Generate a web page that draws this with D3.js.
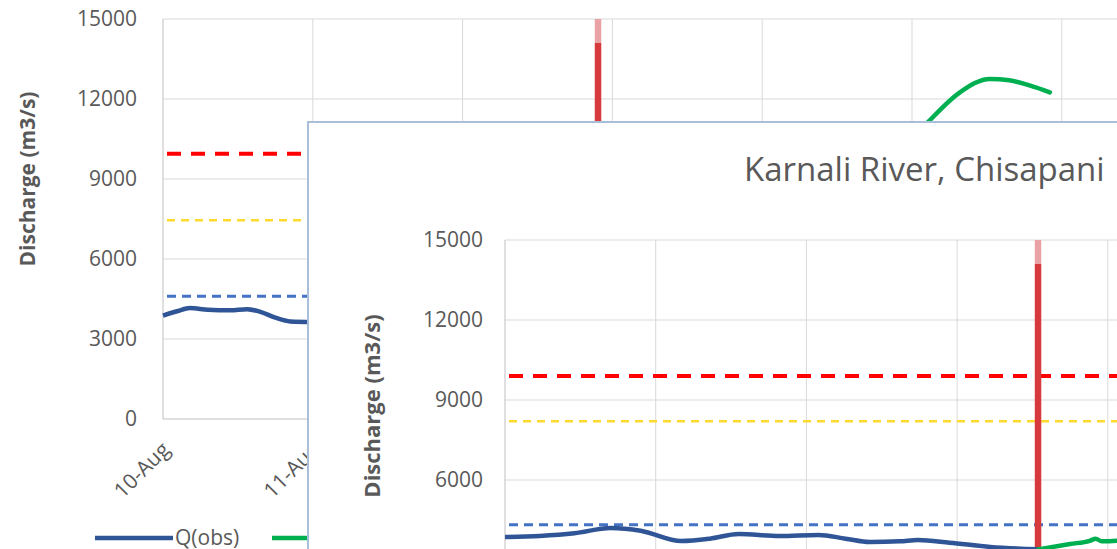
<!DOCTYPE html>
<html>
<head>
<meta charset="utf-8">
<script src="https://cdn.jsdelivr.net/npm/d3@7"></script>
<style>
  body { margin: 0; background: #fff; }
  text { font-family: "Open Sans", sans-serif; fill: #595959; }
</style>
</head>
<body>
<div id="chart"></div>
<script>
// Data (days since 10-Aug, discharge m3/s)
const yTicks = [0, 3000, 6000, 9000, 12000, 15000];
const dayLabels = ["10-Aug", "11-Aug", "12-Aug", "13-Aug", "14-Aug", "15-Aug", "16-Aug"];

// back chart
const backObsDays = [0, 0.1, 0.18, 0.3, 0.45, 0.56, 0.65, 0.75, 0.85, 1.0];
const backObsQ    = [3880, 4050, 4160, 4100, 4080, 4120, 4020, 3800, 3660, 3640];
const backFcDays  = [5.05, 5.11, 5.32, 5.52, 5.65, 5.79, 5.92];
const backFcQ     = [10800, 11150, 12250, 12750, 12700, 12500, 12250];
const backLevels  = { danger: 9950, warning: 7450, alert: 4600 };
const backEventDay = 2.904;

// front chart
const frontObsDays = [0, 0.23, 0.46, 0.70, 0.90, 1.17, 1.36, 1.55, 1.82, 2.08, 2.26, 2.42, 2.62, 2.74, 2.95, 3.22, 3.54];
const frontObsQ    = [3860, 3900, 4000, 4200, 4100, 3710, 3800, 3975, 3900, 3940, 3800, 3675, 3700, 3750, 3650, 3490, 3400];
const frontFcDays  = [3.54, 3.75, 3.88, 3.92, 3.96, 4.06, 4.2];
const frontFcQ     = [3400, 3600, 3720, 3800, 3700, 3720, 3800];
const frontLevels  = { danger: 9900, warning: 8200, alert: 4320 };
const frontEventDay = 3.537;

const W = 1117, H = 549;
const svg = d3.select("#chart").append("svg")
    .attr("width", W)
    .attr("height", H);

const colors = {
    obs: "#2f5597", fc: "#00b050", danger: "#ff0000",
    warning: "#ffd92e", alert: "#4472c4", grid: "#d9d9d9"
};

function drawChart(g, x, y, days, xRight, obsDays, obsQ, fcDays, fcQ, levels, eventDay, pad) {
    const x0 = x.range()[0];

    // gridlines
    g.selectAll(".hgrid").data(yTicks).enter().append("line")
        .attr("x1", x0).attr("x2", xRight)
        .attr("y1", d => y(d)).attr("y2", d => y(d))
        .attr("stroke", d => d === 0 ? "#bfbfbf" : colors.grid);
    g.selectAll(".vgrid").data(days).enter().append("line")
        .attr("x1", d => x(d)).attr("x2", d => x(d))
        .attr("y1", y(15000)).attr("y2", y(0))
        .attr("stroke", (d, i) => i === 0 ? "#bfbfbf" : colors.grid);

    // y axis labels
    g.append("g")
        .attr("transform", `translate(${x0},0)`)
        .call(d3.axisLeft(y).tickValues(yTicks).tickFormat(d3.format("d")).tickSize(0).tickPadding(pad))
        .call(a => a.select(".domain").remove())
        .selectAll("text")
        .style("font-size", "21px")
        .style("font-family", "Open Sans, sans-serif")
        .attr("fill", "#595959");

    // threshold lines
    const lv = [
        { v: levels.danger, c: colors.danger, w: 4, dash: "14,10" },
        { v: levels.warning, c: colors.warning, w: 2.5, dash: "8,6" },
        { v: levels.alert, c: colors.alert, w: 3, dash: "9,6" }
    ];
    g.selectAll(".lvl").data(lv).enter().append("line")
        .attr("x1", x0 + 4).attr("x2", xRight)
        .attr("y1", d => y(d.v)).attr("y2", d => y(d.v))
        .attr("stroke", d => d.c)
        .attr("stroke-width", d => d.w)
        .attr("stroke-dasharray", d => d.dash);

    // event marker
    g.append("line")
        .attr("x1", x(eventDay)).attr("x2", x(eventDay))
        .attr("y1", y(14100)).attr("y2", y(0))
        .attr("stroke", "#d63a3c").attr("stroke-width", 6.5);
    g.append("line")
        .attr("x1", x(eventDay)).attr("x2", x(eventDay))
        .attr("y1", y(15000)).attr("y2", y(14100))
        .attr("stroke", "#e9a3a5").attr("stroke-width", 6.5);

    const line = d3.line()
        .x(d => x(d[0])).y(d => y(d[1]))
        .curve(d3.curveMonotoneX);

    g.append("path")
        .datum(d3.zip(obsDays, obsQ))
        .attr("d", line)
        .attr("fill", "none")
        .attr("stroke", colors.obs)
        .attr("stroke-width", 4.5)
        .attr("stroke-linejoin", "round");

    g.append("path")
        .datum(d3.zip(fcDays, fcQ))
        .attr("d", line)
        .attr("fill", "none")
        .attr("stroke", colors.fc)
        .attr("stroke-width", 4.5)
        .attr("stroke-linecap", "round");
}

// ---- back chart
const backX = d3.scaleLinear().domain([0, 6]).range([163, 163 + 6 * 149.8]);
const backY = d3.scaleLinear().domain([0, 15000]).range([419, 19]);
const back = svg.append("g");
drawChart(back, backX, backY, d3.range(0, 7), W, backObsDays, backObsQ, backFcDays, backFcQ, backLevels, backEventDay, 26);

back.append("text")
    .attr("transform", `translate(35,179) rotate(-90)`)
    .attr("text-anchor", "middle")
    .style("font-size", "21px")
    .style("font-weight", "bold")
    .text("Discharge (m3/s)");

back.selectAll(".xl").data(dayLabels.slice(0, 2)).enter().append("text")
    .attr("transform", (d, i) => `translate(${backX(i) + 8},${backY(0) + 32}) rotate(-45)`)
    .attr("text-anchor", "end")
    .style("font-size", "21px")
    .text(d => d);

// legend
back.append("line")
    .attr("x1", 95).attr("x2", 173).attr("y1", 538).attr("y2", 538)
    .attr("stroke", colors.obs).attr("stroke-width", 4.5);
back.append("text")
    .attr("x", 175).attr("y", 545)
    .style("font-size", "21px")
    .text("Q(obs)");
back.append("line")
    .attr("x1", 272).attr("x2", 320).attr("y1", 538).attr("y2", 538)
    .attr("stroke", colors.fc).attr("stroke-width", 4.5);

// ---- front chart (overlay box)
svg.append("rect")
    .attr("x", 308).attr("y", 122)
    .attr("width", 850).attr("height", 460)
    .attr("fill", "#fff")
    .attr("stroke", "#a9bfd9")
    .attr("stroke-width", 2);

const frontX = d3.scaleLinear().domain([0, 5]).range([505, 505 + 5 * 150.7]);
const frontY = d3.scaleLinear().domain([0, 15000]).range([640, 240]);
const front = svg.append("g");
drawChart(front, frontX, frontY, d3.range(0, 5), W, frontObsDays, frontObsQ, frontFcDays, frontFcQ, frontLevels, frontEventDay, 22);

front.append("text")
    .attr("transform", `translate(380,406) rotate(-90)`)
    .attr("text-anchor", "middle")
    .style("font-size", "22px")
    .style("font-weight", "bold")
    .text("Discharge (m3/s)");

front.append("text")
    .attr("x", 744).attr("y", 181)
    .style("font-size", "33px")
    .text("Karnali River, Chisapani");
</script>
</body>
</html>
